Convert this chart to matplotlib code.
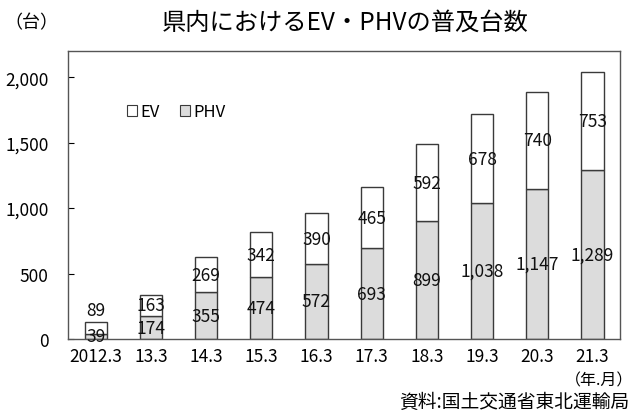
import matplotlib.pyplot as plt
from matplotlib.ticker import FuncFormatter
from matplotlib.patches import Patch

plt.rcParams["font.family"] = ["Noto Sans CJK JP", "DejaVu Sans"]

years = ["2012.3", "13.3", "14.3", "15.3", "16.3", "17.3", "18.3", "19.3", "20.3", "21.3"]
phv = [39, 174, 355, 474, 572, 693, 899, 1038, 1147, 1289]
ev = [89, 163, 269, 342, 390, 465, 592, 678, 740, 753]

EDGE = "#3a3a3a"
PHV_FILL = "#dcdcdc"

fig = plt.figure(figsize=(6.36, 4.14), dpi=100)
ax = fig.add_axes([0.107, 0.179, 0.868, 0.695])

x = list(range(len(years)))
w = 0.4
ax.bar(x, phv, width=w, color=PHV_FILL, edgecolor=EDGE, linewidth=1.0)
ax.bar(x, ev, width=w, bottom=phv, color="white", edgecolor=EDGE, linewidth=1.0)

for i, (p, e) in enumerate(zip(phv, ev)):
    ax.text(i, p / 2, f"{p:,}", ha="center", va="center", fontsize=12.5, color="#111")
    if i == 0:
        # first EV segment is too short to hold its label
        ey = p + e + 90
    else:
        ey = p + e / 2
    ax.text(i, ey, f"{e:,}", ha="center", va="center", fontsize=12.5, color="#111")

ax.set_xlim(-0.5, len(years) - 0.5)
ax.set_ylim(0, 2200)
ax.set_yticks(range(0, 2001, 500))
ax.yaxis.set_major_formatter(FuncFormatter(lambda v, _: f"{int(v):,}"))
ax.set_xticks(x)
ax.set_xticklabels(years)
ax.tick_params(axis="x", length=0, labelsize=12.5, pad=6)
ax.tick_params(axis="y", direction="in", length=4, labelsize=12.5, pad=14)
for s in ax.spines.values():
    s.set_color("#555")
    s.set_linewidth(1.0)

handles = [Patch(facecolor="white", edgecolor=EDGE, linewidth=0.8, label="EV"),
           Patch(facecolor=PHV_FILL, edgecolor=EDGE, linewidth=0.8, label="PHV")]
ax.legend(handles=handles, ncol=2, frameon=False, loc="center left",
          bbox_to_anchor=(0.08, 0.79), fontsize=12, handlelength=0.6,
          handleheight=0.6, handletextpad=0.2, columnspacing=1.2)

fig.text(0.543, 0.945, "県内におけるEV・PHVの普及台数", ha="center", va="center", fontsize=17.5)
fig.text(0.05, 0.945, "（台）", ha="center", va="center", fontsize=13)
fig.text(0.995, 0.08, "（年.月）", ha="right", va="center", fontsize=11.5)
fig.text(0.99, 0.027, "資料:国土交通省東北運輸局", ha="right", va="center", fontsize=13.5)

fig.savefig("out.png", dpi=100, facecolor="white")
